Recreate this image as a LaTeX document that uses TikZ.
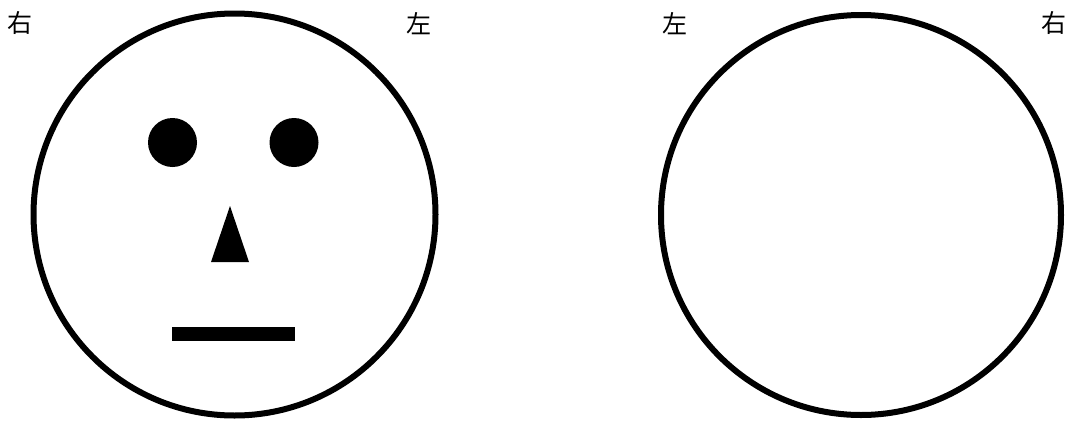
\documentclass[tikz,border=0pt]{standalone}
\usepackage{fontspec}
\newfontfamily\cjk{Noto Sans CJK JP}
\begin{document}
\begin{tikzpicture}[x=1pt,y=-1pt,
  face/.style={line width=6pt,draw=black},
  lbl/.style={font=\cjk\fontsize{25}{25}\selectfont,inner sep=0pt},
  feat/.style={fill=black,draw=none}]
\useasboundingbox (0,0) rectangle (1072,421);
\fill[white] (0,0) rectangle (1072,421);
% labels
\node[lbl] (r1) at (20.5,23.5) {右};
\node[lbl] (l1) at (418.5,23.5) {左};
\node[lbl] (l2) at (675,23.5) {左};
\node[lbl] (r2) at (1054,23.5) {右};
% left face
\draw[face] (234.5,214.5) circle[radius=201];
\fill[feat] (172.5,142.5) circle[radius=24.5];
\fill[feat] (294,142.5) circle[radius=24.5];
\fill[feat] (230,206) -- (249,262) -- (211,262) -- cycle;
\fill[feat] (172,327) rectangle (295,341);
% right face
\draw[face] (861,215) circle[radius=200];
\end{tikzpicture}
\end{document}
